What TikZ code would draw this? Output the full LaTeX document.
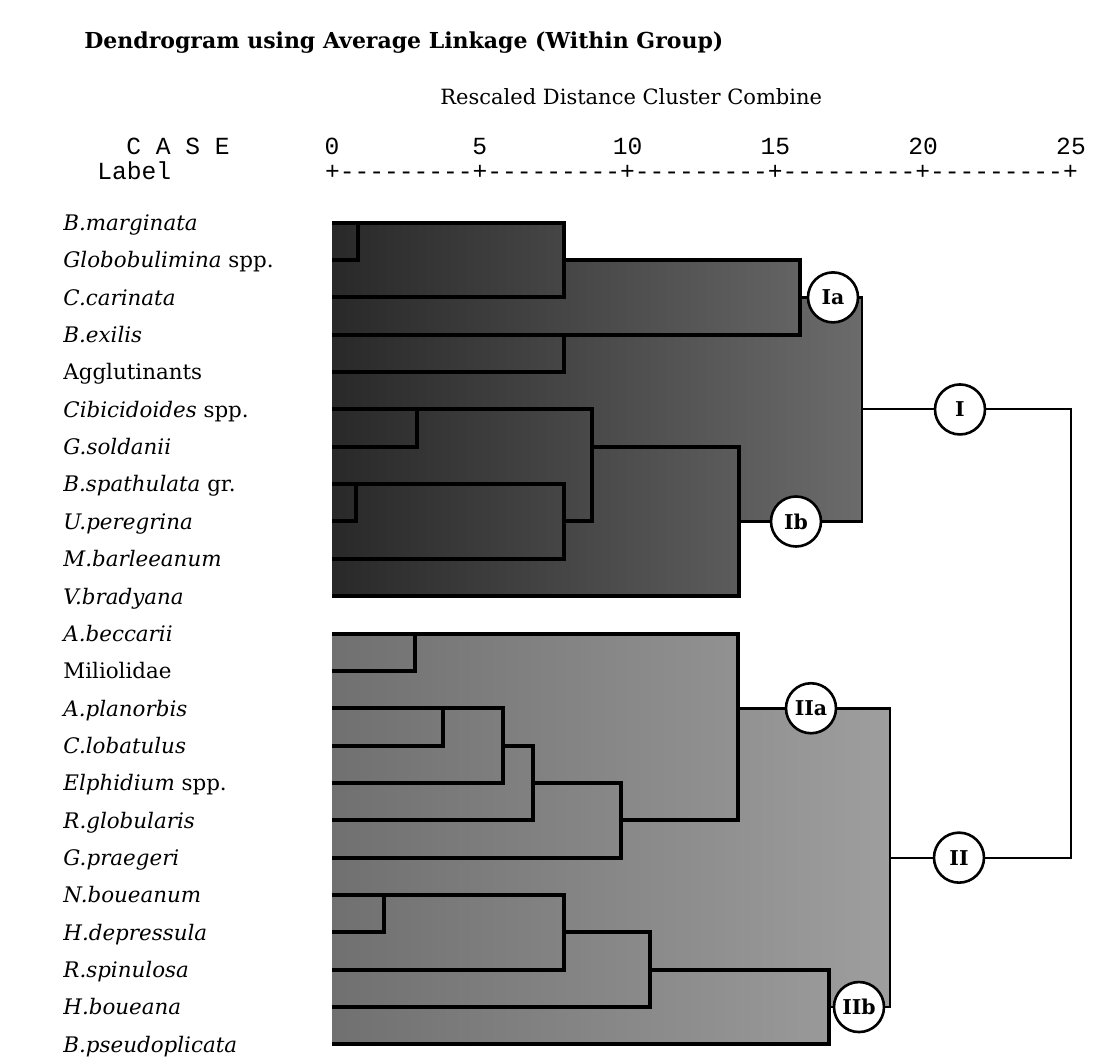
\documentclass[tikz,border=0pt]{standalone}
\usepackage{fontspec}
\setmainfont{DejaVu Serif}
\newfontfamily\casefont{Liberation Mono}
\usepackage{tikz}
\usetikzlibrary{positioning,calc}
% y of case row k (picture in pixel units, y runs down)
\newcommand{\yr}[1]{222.7+37.35*#1}
\newcommand{\dashes}{-{}-{}-{}-{}-{}-{}-{}-{}-}

\begin{document}
\begin{tikzpicture}[x=0.5pt, y=-0.5pt,
  lab/.style={anchor=base west, inner sep=0pt, font=\fontsize{10.7}{12}\selectfont},
  hd/.style={anchor=base west, inner sep=0pt, font=\casefont\fontsize{12.3}{14}\selectfont},
  tk/.style={anchor=base, inner sep=0pt, font=\casefont\fontsize{12.3}{14}\selectfont},
  br/.style={line width=2pt},
  md/.style={line width=1.4pt},
  lk/.style={line width=1pt},
  cl/.style={circle, draw, fill=white, line width=1.3pt, minimum size=25pt,
             inner sep=0pt, font=\bfseries\fontsize{10.2}{12}\selectfont},
  gI/.style={left color=black!84, right color=black!58},
  gII/.style={left color=black!56, right color=black!38},
]
\useasboundingbox (0,0) rectangle (1094,1059);

% --- header ---
\node[anchor=base west, inner sep=0pt, font=\bfseries\fontsize{11}{13}\selectfont] (title) at (84,49)
  {Dendrogram using Average Linkage (Within Group)};
\node[anchor=base west, inner sep=0pt, font=\fontsize{10.5}{12}\selectfont] (rdcc) at (440,105)
  {Rescaled Distance Cluster Combine};
\node[hd] (case) at (126,155) {C A S E};
\node[hd] (label) at (97,180) {Label};
\foreach \n [count=\i from 0] in {0,5,10,15,20,25}
  \node[tk] (t\n) at ({332+147.8*\i},155) {\n};
\node[hd] (ruler) at (324.6,180) {+\dashes+\dashes+\dashes+\dashes+\dashes+};

% --- case labels ---
\foreach \k/\t in {0/{\textit{B.marginata}}, 1/{\textit{Globobulimina} spp.}, 2/{\textit{C.carinata}},
  3/{\textit{B.exilis}}, 4/{Agglutinants}, 5/{\textit{Cibicidoides} spp.}, 6/{\textit{G.soldanii}},
  7/{\textit{B.spathulata} gr.}, 8/{\textit{U.peregrina}}, 9/{\textit{M.barleeanum}},
  10/{\textit{V.bradyana}}, 11/{\textit{A.beccarii}}, 12/{Miliolidae}, 13/{\textit{A.planorbis}},
  14/{\textit{C.lobatulus}}, 15/{\textit{Elphidium} spp.}, 16/{\textit{R.globularis}},
  17/{\textit{G.praegeri}}, 18/{\textit{N.boueanum}}, 19/{\textit{H.depressula}},
  20/{\textit{R.spinulosa}}, 21/{\textit{H.boueana}}, 22/{\textit{B.pseudoplicata}}}
  \node[lab] (c\k) at (63,{\yr{\k}+7.8}) {\t};

% --- shaded clusters ---
\fill[gI] (332,{\yr{0}}) -- (564,{\yr{0}}) -- (564,{\yr{1}}) -- (800,{\yr{1}}) -- (800,{\yr{2}})
  -- (862,{\yr{2}}) -- (862,{\yr{8}}) -- (739,{\yr{8}}) -- (739,{\yr{10}}) -- (332,{\yr{10}}) -- cycle;
\fill[gII] (332,{\yr{11}}) -- (738,{\yr{11}}) -- (738,{\yr{13}}) -- (890,{\yr{13}})
  -- (890,{\yr{21}}) -- (829,{\yr{21}}) -- (829,{\yr{22}}) -- (332,{\yr{22}}) -- cycle;

% --- cluster I ---
\draw[br] (332,{\yr{0}}) -| (564,{\yr{2}}) -- (332,{\yr{2}});
\draw[br] (358,{\yr{0}}) |- (332,{\yr{1}});
\draw[br] (564,{\yr{1}}) -| (800,{\yr{3}}) -- (332,{\yr{3}});
\draw[br] (564,{\yr{3}}) |- (332,{\yr{4}});
\draw[br] (332,{\yr{5}}) -| (592,{\yr{8}}) -- (564,{\yr{8}});
\draw[br] (417,{\yr{5}}) |- (332,{\yr{6}});
\draw[br] (592,{\yr{6}}) -| (739,{\yr{10}}) -- (332,{\yr{10}});
\draw[br] (332,{\yr{7}}) -| (564,{\yr{9}}) -- (332,{\yr{9}});
\draw[br] (356,{\yr{7}}) |- (332,{\yr{8}});

% --- cluster II ---
\draw[br] (332,{\yr{11}}) -| (738,{\yr{16}}) -- (621,{\yr{16}});
\draw[br] (415,{\yr{11}}) |- (332,{\yr{12}});
\draw[br] (332,{\yr{13}}) -| (503,{\yr{15}}) -- (332,{\yr{15}});
\draw[br] (443,{\yr{13}}) |- (332,{\yr{14}});
\draw[br] (503,{\yr{14}}) -| (533,{\yr{16}}) -- (332,{\yr{16}});
\draw[br] (533,{\yr{15}}) -| (621,{\yr{17}}) -- (332,{\yr{17}});
\draw[br] (332,{\yr{18}}) -| (564,{\yr{20}}) -- (332,{\yr{20}});
\draw[br] (384,{\yr{18}}) |- (332,{\yr{19}});
\draw[br] (564,{\yr{19}}) -| (650,{\yr{21}}) -- (332,{\yr{21}});
\draw[br] (650,{\yr{20}}) -| (829,{\yr{22}}) -- (332,{\yr{22}});

% --- group marks ---
\node[cl] (Ia)  at (833,{\yr{2}})  {Ia};
\node[cl] (Ib)  at (796,{\yr{8}})  {Ib};
\node[cl] (I)   at (960,{\yr{5}})  {I};
\node[cl] (IIa) at (811,{\yr{13}}) {IIa};
\node[cl] (IIb) at (859,{\yr{21}}) {IIb};
\node[cl] (II)  at (959,{\yr{17}}) {II};
\draw[md] (800,{\yr{2}}) -- (Ia);
\draw[md] (Ia) -| (862,{\yr{8}}) -- (Ib);
\draw[md] (739,{\yr{8}}) -- (Ib);
\draw[md] (738,{\yr{13}}) -- (IIa);
\draw[md] (IIa) -| (890,{\yr{21}}) -- (IIb);
\draw[md] (829,{\yr{21}}) -- (IIb);
\draw[lk] (862,{\yr{5}}) -- (I);
\draw[lk] (I) -| (1071,{\yr{17}}) -- (II);
\draw[lk] (II) -- (890,{\yr{17}});
\end{tikzpicture}
\end{document}
